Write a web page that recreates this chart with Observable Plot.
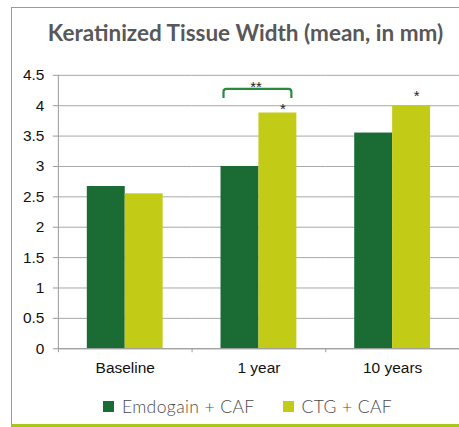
<!DOCTYPE html>
<html><head><meta charset="utf-8">
<script src="https://cdn.jsdelivr.net/npm/d3@7"></script>
<script src="https://cdn.jsdelivr.net/npm/@observablehq/plot@0.6"></script>
<style>
body{margin:0;background:#fff;}
#wrap{position:relative;width:459px;height:427px;overflow:hidden;background:#fff;}
#box{position:absolute;left:11px;top:7px;right:-5px;bottom:0;border-left:1.5px solid #9a9a9a;border-top:1.5px solid #9a9a9a;border-bottom:3.5px solid #a9c61c;}
#title{position:absolute;left:22px;width:447px;top:19px;text-align:center;font-family:Lato,sans-serif;font-weight:700;font-size:22.5px;color:#58585a;white-space:nowrap;}
#chart{position:absolute;left:0;top:0;}
#legend{position:absolute;top:396px;left:24px;width:447px;display:flex;justify-content:center;gap:28px;font-family:Lato,sans-serif;font-weight:300;font-size:17.5px;color:#4a4a4a;letter-spacing:0.4px;}
#legend .item{display:flex;align-items:center;gap:8px;}
#legend .sw{width:11px;height:11px;display:inline-block;}
</style>
</head><body>
<div id="wrap">
  <div id="box"></div>
  <div id="chart"></div>
  <div id="title"></div>
  <div id="legend"></div>
</div>
<script>
const titleText = "Keratinized Tissue Width (mean, in mm)";
const categories = ["Baseline", "1 year", "10 years"];
const series = ["Emdogain + CAF", "CTG + CAF"];
const emdogainValues = [2.67, 3.0, 3.55];
const ctgValues = [2.55, 3.88, 4.0];
const seriesColors = ["#1a6b34", "#c2cb16"];
const yTicks = [0, 0.5, 1, 1.5, 2, 2.5, 3, 3.5, 4, 4.5];
// significance annotations
const starCats = ["1 year", "10 years"];
const starY = [3.95, 4.15];
const bracketCat = "1 year";
const bracketLegY = 4.12;
const bracketTopY = 4.27;
const bracketLabelY = 4.31;

const table = [];
categories.forEach((c, i) => {
  table.push({cat: c, series: series[0], value: emdogainValues[i]});
  table.push({cat: c, series: series[1], value: ctgValues[i]});
});
const stars = starCats.map((c, i) => ({cat: c, series: series[1], y: starY[i], label: "*"}));

const gray = "#9a9a9a";

function customMark(data, draw) {
  return Plot.ruleY(data, {fx: "cat", y: () => 0, render: (index, scales) => {
    const g = d3.create("svg:g");
    index.forEach(i => draw(g, data[i], scales));
    return g.node();
  }});
}

const chart = Plot.plot({
  width: 460,
  height: 379,
  marginTop: 75,
  marginBottom: 30,
  marginLeft: 57,
  marginRight: 0,
  style: {fontFamily: "'Liberation Sans', Arial, sans-serif", fontSize: "15px", color: "#111", background: "transparent"},
  fx: {domain: categories, padding: 0, label: null},
  x: {domain: series, paddingInner: 0, paddingOuter: 0.76, axis: null},
  y: {domain: [0, 4.5], label: null},
  color: {domain: series, range: seriesColors},
  marks: [
    Plot.gridY(yTicks, {stroke: "#a8a8a8", strokeOpacity: 1}),
    Plot.axisY(yTicks, {tickSize: 5, tickPadding: 9, fontSize: 15.5, stroke: gray, fill: "#111", tickFormat: d => String(d), label: null}),
    Plot.axisFx({anchor: "bottom", tickSize: 0, tickPadding: 13, fontSize: 15.5, fill: "#111", label: null}),
    Plot.barY(table, {fx: "cat", x: "series", y: "value", fill: "series"}),
    Plot.ruleY([0], {stroke: gray}),
    // y-axis line on first facet
    customMark([{cat: categories[0]}], (g, d, {x, y}) => {
      const x0 = x.range()[0] + 0.5;
      g.append("line").attr("x1", x0).attr("x2", x0).attr("y1", y(0)).attr("y2", y(4.5)).attr("stroke", gray);
    }),
    // category boundary ticks
    customMark(categories.map(c => ({cat: c})), (g, d, {x, y}) => {
      const x0 = x.range()[0] + 0.5;
      g.append("line").attr("x1", x0).attr("x2", x0).attr("y1", y(0)).attr("y2", y(0) + 4).attr("stroke", gray);
    }),
    // bracket
    customMark([{cat: bracketCat}], (g, d, {x, y}) => {
      const a = x(series[0]) + 3, b = x(series[1]) + x.bandwidth() - 5;
      const yl = y(bracketLegY), yt = y(bracketTopY), r = 3;
      g.append("path")
        .attr("d", `M${a},${yl}V${yt + r}Q${a},${yt} ${a + r},${yt}H${b - r}Q${b},${yt} ${b},${yt + r}V${yl}`)
        .attr("fill", "none").attr("stroke", "#2a8a3c").attr("stroke-width", 2.2);
    }),
    Plot.text([{cat: bracketCat, y: bracketLabelY, label: "**"}], {fx: "cat", y: "y", text: "label", frameAnchor: "middle", fontSize: 15, fill: "#222", dx: -3, style: {letterSpacing: "2px"}}),
    Plot.text(stars, {fx: "cat", x: "series", y: "y", text: "label", fontSize: 15, fill: "#222", dx: 5})
  ]
});
document.getElementById("chart").appendChild(chart);
document.getElementById("title").textContent = titleText;

const legend = document.getElementById("legend");
const color = chart.scale("color");
series.forEach((s, i) => {
  const item = document.createElement("div");
  item.className = "item";
  const sw = document.createElement("span");
  sw.className = "sw";
  sw.style.background = color.range[i];
  const t = document.createElement("span");
  t.textContent = s;
  item.appendChild(sw); item.appendChild(t);
  legend.appendChild(item);
});
</script>
</body></html>
